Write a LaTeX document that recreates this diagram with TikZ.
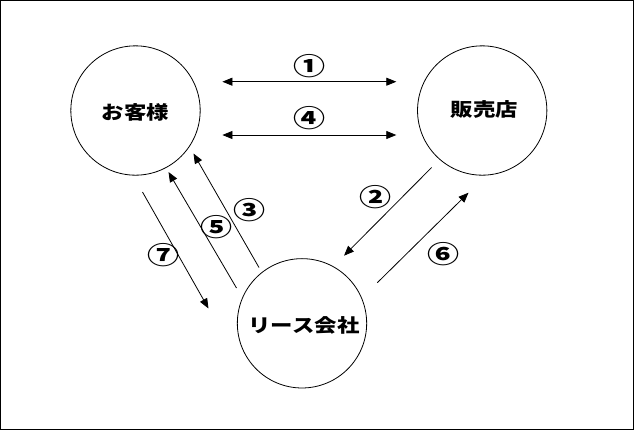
\documentclass[tikz,border=0pt]{standalone}
\usepackage{fontspec}
\usepackage{graphicx}
\usetikzlibrary{arrows.meta}
\newfontfamily\cjk{Noto Sans CJK JP}
\newcommand{\jlabel}[1]{\scalebox{1.2}[1]{\cjk\bfseries\fontsize{14pt}{16pt}\selectfont #1}}
\newcommand{\nlabel}[1]{\scalebox{1.3}[1]{\cjk\bfseries\fontsize{18.5pt}{20pt}\selectfont #1}}
\tikzset{
  party/.style={circle, draw, line width=0.6pt, minimum size=97pt, inner sep=0pt},
  flow/.style={line width=0.6pt, -{Triangle[length=7.5pt,width=6pt]}},
  both/.style={line width=0.6pt, {Triangle[length=7.5pt,width=6pt]}-{Triangle[length=7.5pt,width=6pt]}},
  num/.style={inner sep=0pt}
}
\begin{document}
\begin{tikzpicture}[x=0.75pt,y=-0.75pt]
\path[use as bounding box] (0,0) rectangle (634,430);
\draw[line width=0.75pt] (0.5,0.5) rectangle (633.5,429.5);

\node[party] (cust) at (135.5,110.5) {};
\node[party] (shop) at (482.2,110.5) {};
\node[party] (lease) at (302,323.3) {};
\node[num] (custT) at (135.5,112.5) {\jlabel{お客様}};
\node[num] (shopT) at (484.5,109) {\jlabel{販売店}};
\node[num] (leaseT) at (304,325) {\jlabel{リース会社}};

\coordinate (a1L) at (222.4,81.7);
\coordinate (a1R) at (396.3,81.7);
\coordinate (a4L) at (222.4,135);
\coordinate (a4R) at (396.3,135);
\coordinate (a3s) at (259,267.5);
\coordinate (a3e) at (193.5,153.5);
\coordinate (a5s) at (236.5,288);
\coordinate (a5e) at (168.5,172);
\coordinate (a7s) at (142.5,192);
\coordinate (a7e) at (208.5,308.5);
\coordinate (a2s) at (431.6,167.5);
\coordinate (a2e) at (344,255.7);
\coordinate (a6s) at (377.3,282.7);
\coordinate (a6e) at (468.5,192.7);

\draw[both] (a1L) -- (a1R);
\draw[both] (a4L) -- (a4R);
\draw[flow] (a3s) -- (a3e);
\draw[flow] (a5s) -- (a5e);
\draw[flow] (a7s) -- (a7e);
\draw[flow] (a2s) -- (a2e);
\draw[flow] (a6s) -- (a6e);

\node[num] (n1) at (309.3,65.7) {\nlabel{①}};
\node[num] (n4) at (309.3,118.3) {\nlabel{④}};
\node[num] (n3) at (250,210) {\nlabel{③}};
\node[num] (n5) at (217,227.3) {\nlabel{⑤}};
\node[num] (n7) at (163.8,255) {\nlabel{⑦}};
\node[num] (n2) at (375.3,197.3) {\nlabel{②}};
\node[num] (n6) at (444,254) {\nlabel{⑥}};
\end{tikzpicture}
\end{document}
